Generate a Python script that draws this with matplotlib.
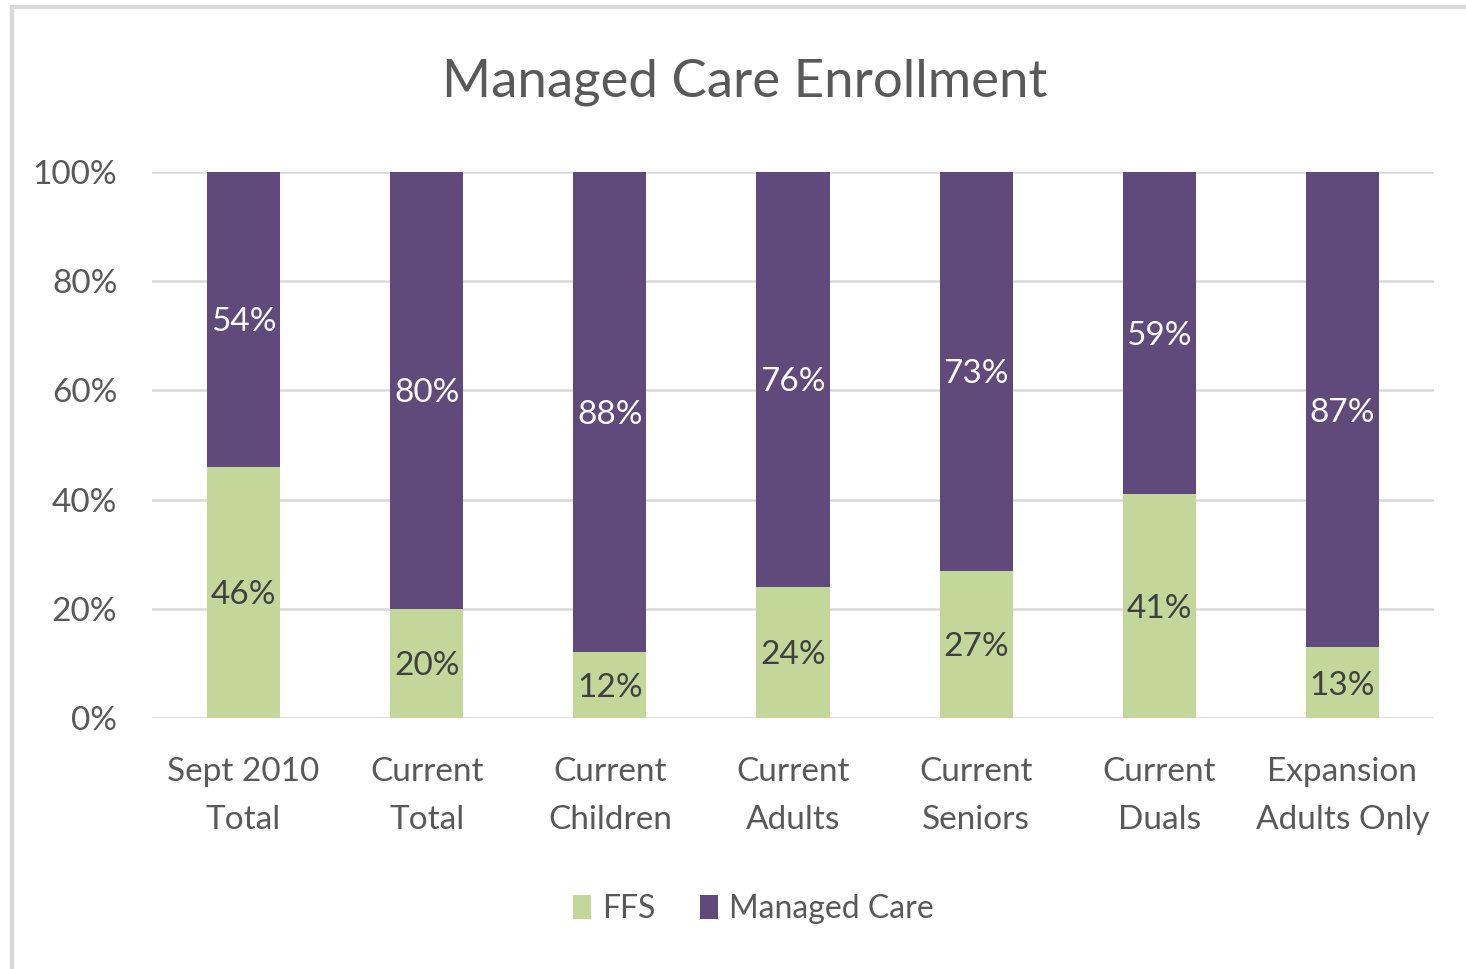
import matplotlib
matplotlib.use("Agg")
import matplotlib.pyplot as plt
import numpy as np
from matplotlib.patches import Rectangle

categories = ["Sept 2010\nTotal", "Current\nTotal", "Current\nChildren", "Current\nAdults",
              "Current\nSeniors", "Current\nDuals", "Expansion\nAdults Only"]
ffs = [46, 20, 12, 24, 27, 41, 13]
managed = [54, 80, 88, 76, 73, 59, 87]
yticks = [0, 20, 40, 60, 80, 100]

GREEN = "#c4d79b"
PURPLE = "#604a7b"
TEXT = "#595959"

plt.rcParams["font.family"] = ["Lato", "DejaVu Sans"]

fig = plt.figure(figsize=(14.66, 9.69), dpi=100)
ax = fig.add_axes([152 / 1466, 1 - 718 / 969, (1434 - 152) / 1466, (718 - 172) / 969])

x = np.arange(len(categories))
ffs_frac = np.array(ffs) / 100
mc_frac = np.array(managed) / 100
ax.bar(x, ffs_frac, width=0.4, color=GREEN, label="FFS", zorder=3)
ax.bar(x, mc_frac, width=0.4, bottom=ffs_frac, color=PURPLE, label="Managed Care", zorder=3)

# data labels in the middle of each segment
for i in range(len(x)):
    ax.text(x[i], ffs_frac[i] / 2, f"{ffs[i]}%", ha="center", va="center_baseline",
            fontsize=24, color="#404040", zorder=4)
    ax.text(x[i], ffs_frac[i] + mc_frac[i] / 2, f"{managed[i]}%", ha="center",
            va="center_baseline", fontsize=24, color="white", zorder=4)

ax.set_xlim(-0.5, len(x) - 0.5)
ax.set_ylim(0, 1)
ax.set_yticks([t / 100 for t in yticks])
ax.set_yticklabels([f"{t}%" for t in yticks])
ax.set_xticks(x)
ax.set_xticklabels(categories, linespacing=1.75)
ax.tick_params(axis="both", length=0, labelsize=24, labelcolor=TEXT)
ax.tick_params(axis="y", pad=25)
ax.tick_params(axis="x", pad=28)
ax.grid(axis="y", color="#d9d9d9", linewidth=1.8, zorder=0)
for s in ax.spines.values():
    s.set_visible(False)

fig.text(0.508, 1 - 82 / 969, "Managed Care Enrollment", ha="center", va="center",
         fontsize=38, color=TEXT)

leg = fig.legend(loc="center", bbox_to_anchor=(0.514, 1 - 909 / 969), ncol=2, frameon=False,
                 fontsize=23, handlelength=0.55, handleheight=0.75, handletextpad=0.35,
                 columnspacing=1.4, labelcolor=TEXT)

# chart frame border
fig.patches.append(Rectangle((12 / 1466, -0.01), 1.2, 1 - 7 / 969 + 0.01, transform=fig.transFigure,
                             fill=False, edgecolor="#d9d9d9", linewidth=3))

fig.savefig("out.png", dpi=100)
